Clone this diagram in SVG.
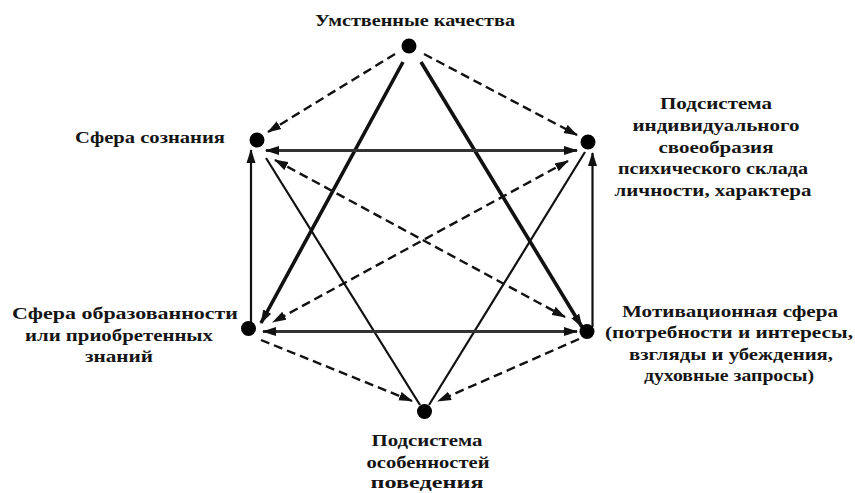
<svg xmlns="http://www.w3.org/2000/svg" width="855" height="493" viewBox="0 0 855 493">
<style>
text{font-family:"Liberation Serif","DejaVu Serif",serif;font-weight:700;font-size:17px;fill:#151515;text-anchor:middle}
.c{stroke:#111;fill:none}
.thick{stroke-width:3.6}
.thin{stroke-width:2.2}
.hz{stroke:#333;stroke-width:2.8}
.dash{stroke-width:2.4;stroke-dasharray:9 5}
.dot{fill:#000}
</style>
<defs>
<marker id="ah" markerUnits="userSpaceOnUse" markerWidth="14" markerHeight="10" refX="13" refY="4.5" orient="auto-start-reverse" viewBox="0 0 14 9">
<path d="M0,0 L14,4.5 L0,9 z" fill="#111"/>
</marker>
</defs>
<rect width="855" height="493" fill="#fff"/>
<g id="connectors">
<path class="c dash" d="M395,54 L268,132" marker-end="url(#ah)"/>
<path class="c dash" d="M424,54 L577,135" marker-end="url(#ah)"/>
<path class="c thick" d="M403,62 L261,323" marker-end="url(#ah)"/>
<path class="c thick" d="M421,62 L582,327" marker-end="url(#ah)"/>
<path class="c hz" d="M266,150.5 L577,150.5" marker-start="url(#ah)" marker-end="url(#ah)"/>
<path class="c dash" d="M275,160 L565,317" marker-start="url(#ah)" marker-end="url(#ah)"/>
<path class="c dash" d="M568,161 L273,322" marker-start="url(#ah)" marker-end="url(#ah)"/>
<path class="c thin" d="M266,158 L420,405"/>
<path class="c thin" d="M585,152 L429,405"/>
<path class="c hz" d="M263,331.5 L577,331.5" marker-start="url(#ah)" marker-end="url(#ah)"/>
<path class="c thin" d="M251,322 L251,150" marker-end="url(#ah)"/>
<path class="c thin" d="M592.5,327 L592.5,153" marker-end="url(#ah)"/>
<path class="c dash" d="M261,340 L412,401" marker-end="url(#ah)"/>
<path class="c dash" d="M579,339 L438,401" marker-end="url(#ah)"/>
</g>
<g id="n-top">
<circle class="dot" cx="409" cy="46" r="7.5"/>
<text x="415" y="26" textLength="200" lengthAdjust="spacingAndGlyphs">Умственные качества</text>
</g>
<g id="n-ul">
<circle class="dot" cx="257" cy="140" r="7.5"/>
<text x="150" y="143" textLength="150" lengthAdjust="spacingAndGlyphs">Сфера сознания</text>
</g>
<g id="n-ur">
<circle class="dot" cx="588" cy="142" r="7.5"/>
<text x="716" y="109" textLength="112" lengthAdjust="spacingAndGlyphs">Подсистема</text>
<text x="716" y="131" textLength="167" lengthAdjust="spacingAndGlyphs">индивидуального</text>
<text x="716" y="152.5" textLength="115" lengthAdjust="spacingAndGlyphs">своеобразия</text>
<text x="713" y="174" textLength="190" lengthAdjust="spacingAndGlyphs">психического склада</text>
<text x="713" y="195.5" textLength="197" lengthAdjust="spacingAndGlyphs">личности, характера</text>
</g>
<g id="n-ll">
<circle class="dot" cx="248.5" cy="328.5" r="7.5"/>
<text x="125" y="319" textLength="226" lengthAdjust="spacingAndGlyphs">Сфера образованности</text>
<text x="119" y="340.5" textLength="188" lengthAdjust="spacingAndGlyphs">или приобретенных</text>
<text x="119" y="362" textLength="68" lengthAdjust="spacingAndGlyphs">знаний</text>
</g>
<g id="n-lr">
<circle class="dot" cx="587" cy="331.5" r="7.5"/>
<text x="730" y="317" textLength="216" lengthAdjust="spacingAndGlyphs">Мотивационная сфера</text>
<text x="729" y="338" textLength="248" lengthAdjust="spacingAndGlyphs">(потребности и интересы,</text>
<text x="731" y="360" textLength="204" lengthAdjust="spacingAndGlyphs">взгляды и убеждения,</text>
<text x="729" y="381" textLength="170" lengthAdjust="spacingAndGlyphs">духовные запросы)</text>
</g>
<g id="n-bottom">
<circle class="dot" cx="424.5" cy="411.5" r="7.5"/>
<text x="427" y="446" textLength="111" lengthAdjust="spacingAndGlyphs">Подсистема</text>
<text x="428" y="468" textLength="123" lengthAdjust="spacingAndGlyphs">особенностей</text>
<text x="427" y="488" textLength="113" lengthAdjust="spacingAndGlyphs">поведения</text>
</g>
</svg>
